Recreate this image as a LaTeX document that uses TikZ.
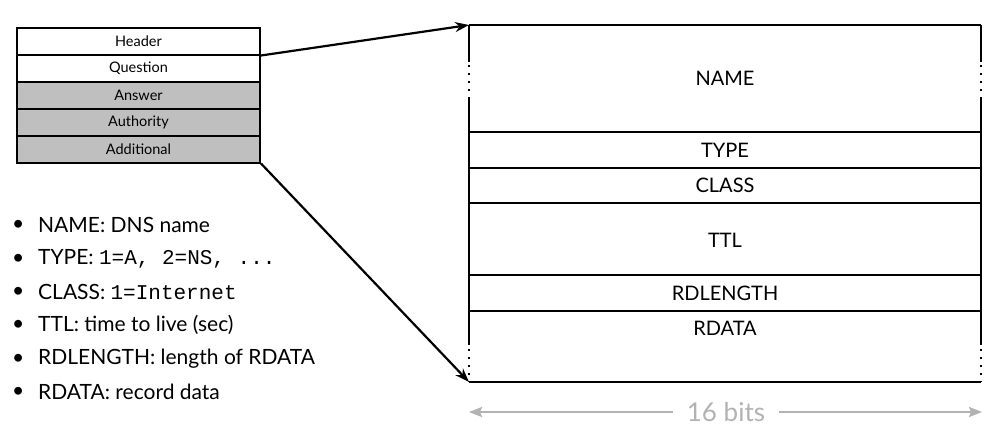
\documentclass[tikz,border=0pt]{standalone}
\usepackage{fontspec}
\setmainfont{Lato}
\setmonofont{Liberation Mono}
\usetikzlibrary{arrows.meta}
\tikzset{secbox/.style={draw, line width=2pt, minimum width=243pt, minimum height=27pt, inner sep=0pt, font=\fontsize{14.5}{14.5}\selectfont}}
\tikzset{secgray/.style={secbox, fill=black!25}}
\tikzset{field/.style={font=\fontsize{20}{20}\selectfont}}
\tikzset{item/.style={anchor=west, inner sep=0pt, font=\fontsize{21}{21}\selectfont}}
\tikzset{rule/.style={line width=2.6pt}}
\tikzset{gaps/.style={line width=2.4pt, dash pattern=on 2.2pt off 5.8pt}}
\tikzset{zoomto/.style={-{Stealth[length=14pt,width=10pt]}, line width=2.2pt}}
\tikzset{span/.style={-{Stealth[length=13pt,width=10pt,inset=2pt]}, line width=2.4pt, color=black!30}}

\begin{document}
\begin{tikzpicture}[x=1pt, y=-1pt]
    \useasboundingbox (0,0) rectangle (1002,431);

    % message sections
    \node[secbox]  (hdr)  at (138.5, 41)  {Header};
    \node[secbox]  (qst)  at (138.5, 68)  {Question};
    \node[secgray] (ans)  at (138.5, 95)  {Answer};
    \node[secgray] (auth) at (138.5, 122) {Authority};
    \node[secgray] (addl) at (138.5, 149) {Additional};

    % resource record
    \coordinate (rrtop) at (469, 25);
    \coordinate (rrbot) at (469, 382);
    \draw[rule] (rrtop) -- (981, 25);
    \draw[rule] (rrbot) -- (981, 382);
    \foreach \y in {132, 168, 203, 275, 311}
        \draw[rule] (469, \y) -- (981, \y);
    \foreach \x in {469, 981} {
        \draw[rule] (\x, 25) -- (\x, 62);
        \draw[gaps] (\x, 65) -- (\x, 97);
        \draw[rule] (\x, 97) -- (\x, 345);
        \draw[gaps] (\x, 349) -- (\x, 382);
    }

    \node[field] (name)  at (725, 78)  {NAME};
    \node[field] (type)  at (725, 150) {TYPE};
    \node[field] (class) at (725, 185) {CLASS};
    \node[field] (ttl)   at (725, 240) {TTL};
    \node[field] (rdlen) at (725, 293) {RDLENGTH};
    \node[field] (rdata) at (725, 328) {RDATA};

    \draw[zoomto] (hdr.south east) -- (rrtop);
    \draw[zoomto] (addl.south east) -- (rrbot);

    % width
    \node[font=\fontsize{26}{26}\selectfont, text=black!30, inner xsep=14pt] (bits) at (726, 412) {16 bits};
    \coordinate (bitsl) at (469, 412);
    \coordinate (bitsr) at (982, 412);
    \draw[span] (bits.west) -- (bitsl);
    \draw[span] (bits.east) -- (bitsr);

    % field list
    \node[item] (b1) at (12, 225) {\textbullet};
    \node[item] (b2) at (12, 259) {\textbullet};
    \node[item] (b3) at (12, 292) {\textbullet};
    \node[item] (b4) at (12, 325) {\textbullet};
    \node[item] (b5) at (12, 359) {\textbullet};
    \node[item] (b6) at (12, 392) {\textbullet};
    \node[item] (t1) at (38, 225) {NAME: DNS name};
    \node[item] (t2) at (38, 259) {TYPE: \texttt{1=A, 2=NS, ...}};
    \node[item] (t3) at (38, 292) {CLASS: \texttt{1=Internet}};
    \node[item] (t4) at (38, 325) {TTL: time to live (sec)};
    \node[item] (t5) at (38, 359) {RDLENGTH: length of RDATA};
    \node[item] (t6) at (38, 392) {RDATA: record data};
\end{tikzpicture}
\end{document}
